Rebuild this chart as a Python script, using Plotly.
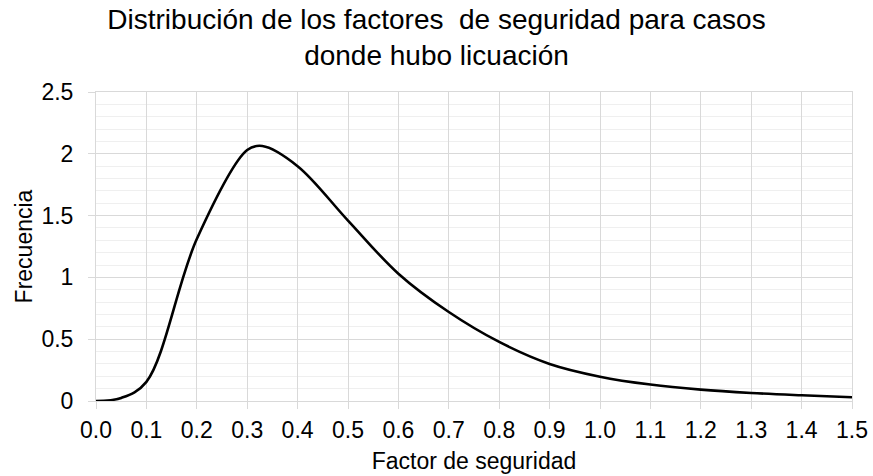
import plotly.graph_objects as go

factor_seguridad = [0.0, 0.05, 0.10, 0.20, 0.30, 0.33, 0.40, 0.50, 0.60, 0.70, 0.80, 0.90,
                    1.00, 1.10, 1.20, 1.30, 1.40, 1.50]
frecuencia = [0.0, 0.025, 0.155, 1.31, 2.03, 2.063, 1.90, 1.46, 1.03, 0.72, 0.478, 0.30,
              0.197, 0.133, 0.092, 0.065, 0.046, 0.03]

x_ticks = [round(i * 0.1, 1) for i in range(16)]
y_ticks = [0, 0.5, 1, 1.5, 2, 2.5]
y_ticklabels = ["0", "0.5", "1", "1.5", "2", "2.5"]

FONT = "Liberation Sans, Arial, sans-serif"
GRID = "#d9d9d9"

fig = go.Figure()
fig.add_trace(go.Scatter(
    x=factor_seguridad, y=frecuencia, mode="lines",
    line=dict(color="#000000", width=2.6, shape="spline", smoothing=1.0),
    showlegend=False, hoverinfo="x+y",
))

fig.update_layout(
    width=873, height=476,
    paper_bgcolor="white", plot_bgcolor="white",
    margin=dict(l=96, r=21, t=92, b=75, autoexpand=False),
    font=dict(family=FONT, color="#000000"),
    title=dict(
        text="Distribución de los factores  de seguridad para casos<br>donde hubo licuación",
        x=0.5, xanchor="center", xref="container",
        y=0.94, yanchor="top", yref="container",
        font=dict(size=28, family=FONT, color="#000000"),
    ),
)

fig.update_xaxes(
    range=[0, 1.5], tickvals=x_ticks, tickformat=".1f",
    automargin=False,
    showgrid=True, gridcolor=GRID, gridwidth=1,
    showline=True, linecolor=GRID, linewidth=1, mirror=True,
    zeroline=False,
    ticks="outside", ticklen=7, tickcolor=GRID,
    ticklabelstandoff=1,
    tickfont=dict(size=23, family=FONT, color="#000000"),
    title=dict(text="Factor de seguridad", font=dict(size=23, family=FONT, color="#000000"), standoff=11),
)
fig.update_yaxes(
    range=[0, 2.5], tickvals=y_ticks, ticktext=y_ticklabels,
    automargin=False,
    showgrid=True, gridcolor=GRID, gridwidth=1,
    showline=True, linecolor=GRID, linewidth=1, mirror=True,
    zeroline=False,
    ticks="outside", ticklen=7, tickcolor=GRID,
    ticklabelstandoff=10,
    tickfont=dict(size=23, family=FONT, color="#000000"),
    minor=dict(dtick=0.1, showgrid=True, gridcolor="#efefef", gridwidth=1, ticks=""),
    title=dict(text="Frecuencia", font=dict(size=23, family=FONT, color="#000000"), standoff=2),
)

fig.write_html("out.html", config={"displayModeBar": False},
               post_script="document.body.style.margin='0';")
